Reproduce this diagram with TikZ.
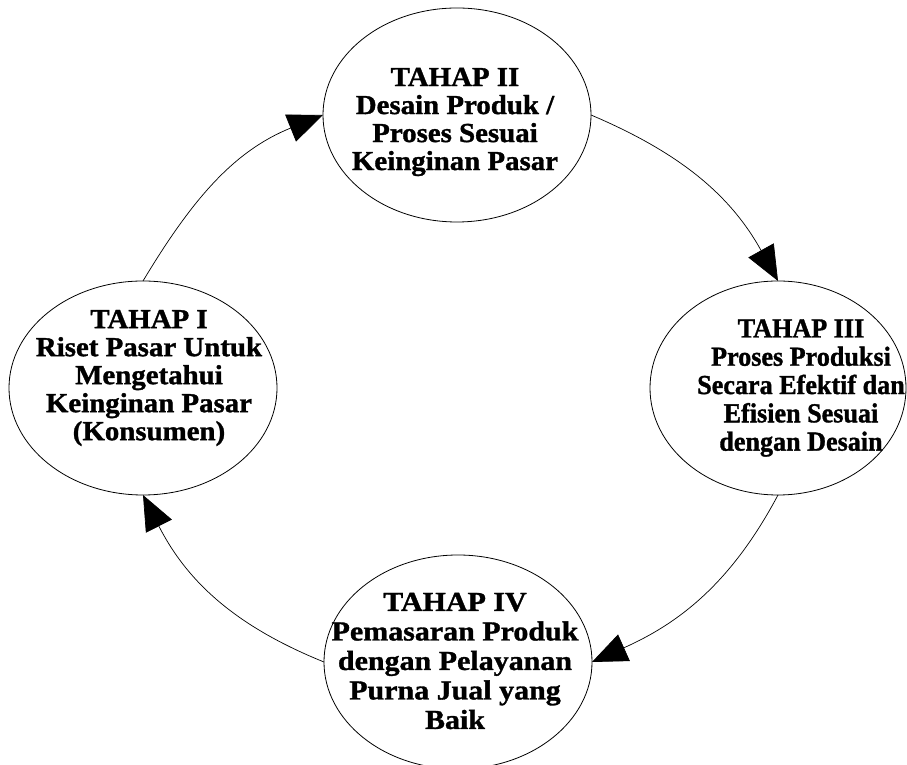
\documentclass[tikz,border=0pt]{standalone}
\usepackage{fontspec}
\setmainfont{Liberation Serif}
\newfontfamily\fTop{Liberation Serif}[FakeStretch=1.05, BoldFeatures={FakeBold=1.2}]
\newfontfamily\fRight{Liberation Serif}[FakeStretch=0.95, BoldFeatures={FakeBold=1.2}]
\newfontfamily\fBot{Liberation Serif}[FakeStretch=1.09, BoldFeatures={FakeBold=1.2}]
\usetikzlibrary{shapes.geometric,arrows.meta}
\tikzset{
  ell/.style={ellipse, draw, line width=0.8pt, inner sep=0pt, outer sep=0pt, minimum width=268pt, minimum height=214pt},
  txt/.style={align=center, inner sep=0pt},
  conn/.style={line width=0.7pt, -{Triangle[length=35pt,width=29pt]}}
}
\begin{document}
\begin{tikzpicture}[x=1pt,y=1pt]
\useasboundingbox (0,0) rectangle (907,765);
\node[ell] (T) at (457,650) {};
\node[ell, minimum width=256pt] (R) at (778,377) {};
\node[ell] (B) at (458,103) {};
\node[ell] (L) at (143,377) {};
\node[txt, font=\fTop\bfseries\fontsize{27.5}{28}\selectfont] (tT) at (455,643) {TAHAP II\\Desain Produk /\\Proses Sesuai\\Keinginan Pasar};
\node[txt, font=\fTop\bfseries\fontsize{27.5}{28}\selectfont] (tL) at (149,387) {TAHAP I\\Riset Pasar Untuk\\Mengetahui\\Keinginan Pasar\\(Konsumen)};
\node[txt, font=\fRight\bfseries\fontsize{27.5}{28.3}\selectfont] (tR) at (801,377) {TAHAP III\\Proses Produksi\\Secara Efektif dan\\Efisien Sesuai\\dengan Desain};
\node[txt, font=\fBot\bfseries\fontsize{27.5}{29.5}\selectfont] (tB) at (455,104) {TAHAP IV\\Pemasaran Produk\\dengan Pelayanan\\Purna Jual yang\\Baik};
\draw[conn] (L.north) to[out=59,in=202] (T.west);
\draw[conn] (T.east) to[out=-23,in=119] (R.north);
\draw[conn] (R.south) to[out=242,in=24] (B.east);
\draw[conn] (B.west) to[out=158,in=297] (L.south);
\end{tikzpicture}
\end{document}
